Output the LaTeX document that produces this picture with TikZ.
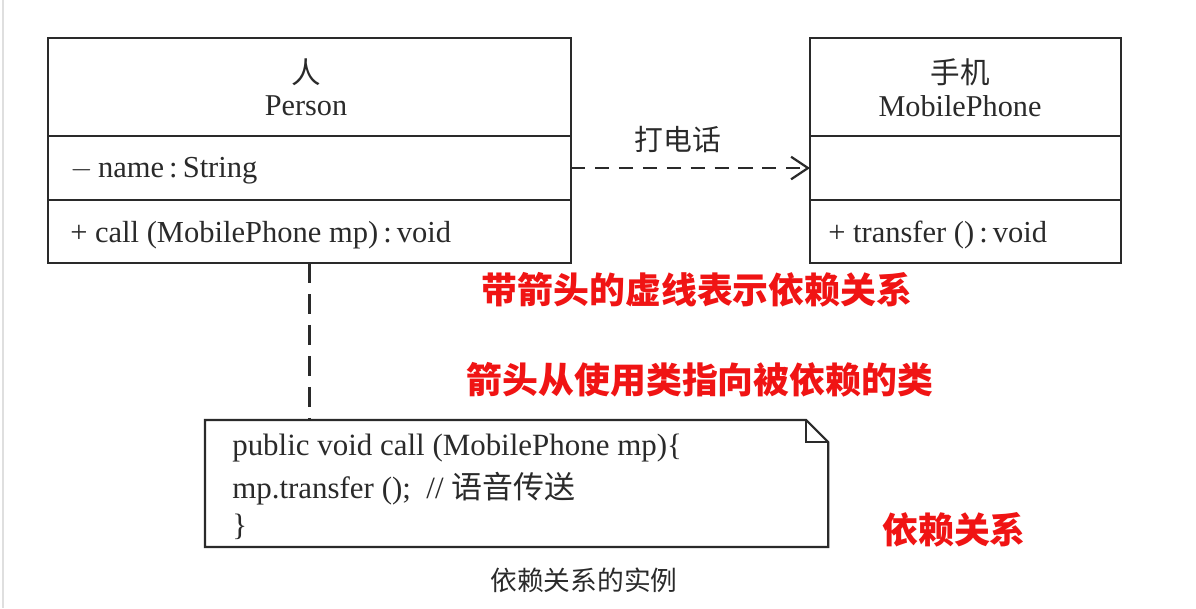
\documentclass[tikz,border=0pt]{standalone}
\usepackage{fontspec}
\setmainfont{Liberation Serif}
\newfontfamily\cjk{Noto Sans CJK SC}
\usetikzlibrary{arrows.meta, calc}

\definecolor{linecol}{HTML}{2A2A2A}
\definecolor{notered}{HTML}{F01414}

\tikzset{
  cls/.style = {draw=linecol, line width=1.6pt, anchor=north west, inner sep=0pt, outer sep=0pt},
  member/.style = {anchor=west, inner sep=0pt, text=linecol, font=\fontsize{21.7}{25}\selectfont},
  code/.style = {member, font=\fontsize{22}{26}\selectfont},
  remark/.style = {text=notered, inner sep=0pt, font=\cjk\bfseries\fontsize{25.5}{30}\selectfont},
  dep/.style = {draw=linecol, line width=1.6pt, dash pattern=on 10pt off 7pt}
}

\begin{document}
\begin{tikzpicture}[x=0.025cm, y=-0.025cm]
	\useasboundingbox[fill=white] (0,0) rectangle (1196,608);
	\draw [gray!25, line width=1.5pt] (3,0) -- (3,608);

	% class Person
	\node [cls, minimum width=13.075cm, minimum height=2.45cm] (person) at (48,38) {};
	\node [cls, minimum width=13.075cm, minimum height=1.6cm] (person-attr) at (person.south west) {};
	\node [cls, minimum width=13.075cm, minimum height=1.575cm] (person-op) at (person-attr.south west) {};
	\node [text=linecol, font=\cjk\fontsize{21}{25}\selectfont] (person-cn) at (306,72) {人};
	\node [text=linecol, font=\fontsize{21.5}{25}\selectfont] (person-en) at (306,106) {Person};
	\node [member] (person-name) at (70,171) {$-$\,name\,:\,String};
	\node [member] (person-call) at (70,235) {+ call (MobilePhone mp)\,:\,void};

	% class MobilePhone
	\node [cls, minimum width=7.775cm, minimum height=2.45cm] (phone) at (810,38) {};
	\node [cls, minimum width=7.775cm, minimum height=1.6cm] (phone-attr) at (phone.south west) {};
	\node [cls, minimum width=7.775cm, minimum height=1.575cm] (phone-op) at (phone-attr.south west) {};
	\node [text=linecol, font=\cjk\fontsize{21}{25}\selectfont] (phone-cn) at (960,72) {手机};
	\node [text=linecol, font=\fontsize{21.5}{25}\selectfont] (phone-en) at (960,106) {MobilePhone};
	\node [member] (phone-transfer) at (828,235) {+ transfer ()\,:\,void};

	% dependency
	\draw [dep, -{Straight Barb[length=12pt, width=16pt, line width=1.6pt]}] (person-attr.east) -- (phone-attr.west);
	\node [text=linecol, font=\cjk\fontsize{20.5}{24}\selectfont] (call-label) at (678,140) {打电话};

	% note
	\node [anchor=north west, inner sep=0pt, outer sep=0pt, minimum width=15.575cm, minimum height=3.175cm] (note) at (205,420) {};
	\draw [linecol, line width=1.6pt, line join=miter] (note.north west) -- ($(note.north east)+(-22,0)$) -- ($(note.north east)+(0,22)$) -- (note.south east) -- (note.south west) -- cycle;
	\draw [linecol, line width=1.6pt] ($(note.north east)+(-22,0)$) -- ++(0,22) -- ($(note.north east)+(0,22)$);
	\draw [dep, dash pattern=on 14pt off 8pt] (person-op.south) -- (person-op.south |- note.north);
	\node [code] (code1) at (232,448) {public void call (MobilePhone mp)\{};
	\node [code] (code2) at (232,489) {mp.transfer ();\enspace// {\cjk 语音传送}};
	\node [code] (code3) at (232,527) {\}};

	% remarks
	\node [remark] (remark1) at (697,290) {带箭头的虚线表示依赖关系};
	\node [remark] (remark2) at (700,380) {箭头从使用类指向被依赖的类};
	\node [remark] (remark3) at (954,530) {依赖关系};
	\node [text=linecol, font=\cjk\fontsize{19}{23}\selectfont] (caption) at (584,580) {依赖关系的实例};
\end{tikzpicture}
\end{document}
